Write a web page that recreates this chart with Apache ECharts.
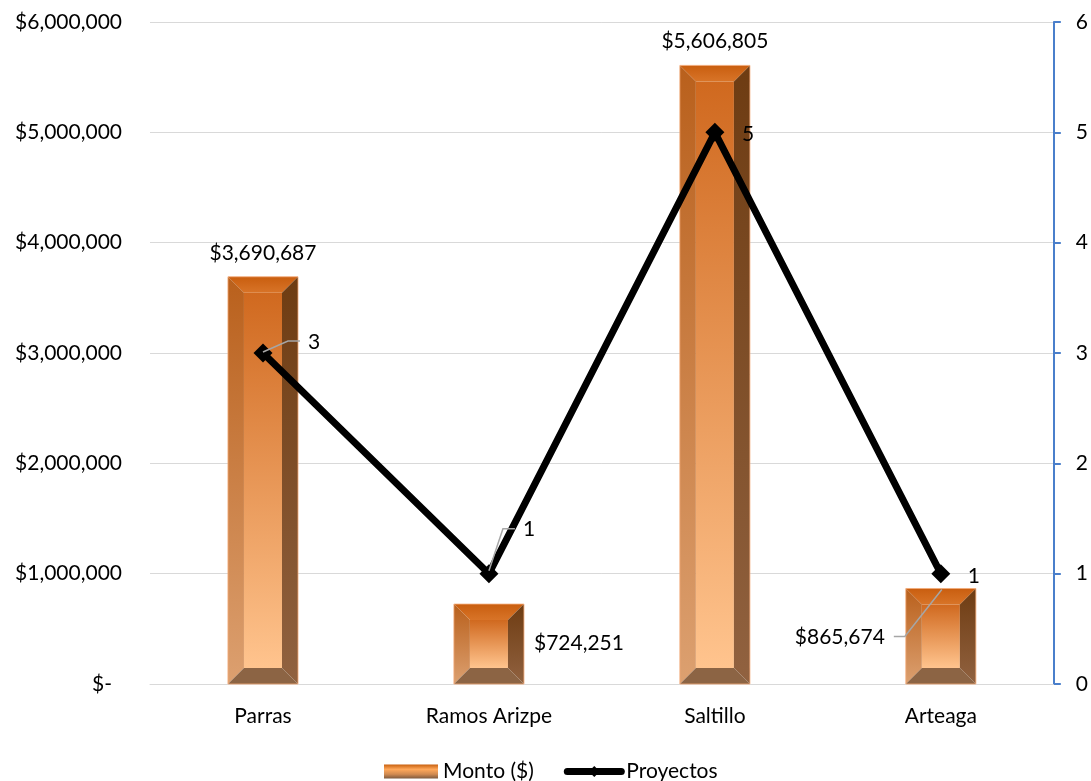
<!DOCTYPE html>
<html>
<head>
<meta charset="utf-8">
<title>Monto y Proyectos por municipio</title>
<script src="https://cdn.jsdelivr.net/npm/echarts@6/dist/echarts.min.js"></script>
<style>
  html, body { margin: 0; padding: 0; background: #ffffff; }
  #chart { width: 1091px; height: 781px; }
</style>
</head>
<body>
<div id="chart"></div>
<script>
// Municipios y valores
const categories = ['Parras', 'Ramos Arizpe', 'Saltillo', 'Arteaga'];
const montos = [3690687, 724251, 5606805, 865674];
const proyectos = [3, 1, 5, 1];
const montoTicks = [0, 1000000, 2000000, 3000000, 4000000, 5000000, 6000000];
const proyectoTicks = [0, 1, 2, 3, 4, 5, 6];

const FONT = 'Lato, "Open Sans", sans-serif';
const FS = 21;

function money(v) {
  return '$' + Math.round(v).toLocaleString('en-US');
}

// Placement of the amount label for each bar
const montoLabelSide = ['top', 'right', 'top', 'left'];

// Beveled bar with its value label
function renderBevelBar(params, api) {
  const idx = params.dataIndex;
  const v = api.value(1);
  const top = api.coord([api.value(0), v]);
  const base = api.coord([api.value(0), 0]);
  const w = api.size([1, 0])[0] * 0.31;
  const l = top[0] - w / 2, r = top[0] + w / 2, t = top[1], b = base[1];
  const d = Math.min(16, (b - t) / 2, w / 2);

  const lin = (c0, c1) => new echarts.graphic.LinearGradient(0, 0, 0, 1, [
    { offset: 0, color: c0 }, { offset: 1, color: c1 }
  ]);

  const children = [
    { type: 'rect', shape: { x: l + d, y: t + d, width: w - 2 * d, height: Math.max(0, b - t - 2 * d) },
      style: { fill: lin('#D0691F', '#FFC48E') } },
    { type: 'polygon', shape: { points: [[l, t], [r, t], [r - d, t + d], [l + d, t + d]] },
      style: { fill: lin('#C95E0F', '#D87428') } },
    { type: 'polygon', shape: { points: [[l, t], [l + d, t + d], [l + d, b - d], [l, b]] },
      style: { fill: lin('#B9601C', '#DCA070') } },
    { type: 'polygon', shape: { points: [[r, t], [r, b], [r - d, b - d], [r - d, t + d]] },
      style: { fill: lin('#6E3C12', '#916240') } },
    { type: 'polygon', shape: { points: [[l, b], [r, b], [r - d, b - d], [l + d, b - d]] },
      style: { fill: '#8C6444' } },
    { type: 'rect', shape: { x: l, y: t, width: w, height: b - t },
      style: { fill: 'none', stroke: 'rgba(244,170,120,0.8)', lineWidth: 1 } }
  ];

  const side = montoLabelSide[idx];
  const txtStyle = { text: money(v), fill: '#000', font: FS + 'px ' + FONT };
  if (side === 'top') {
    children.push({ type: 'text', x: top[0], y: t - 24,
      style: Object.assign({ align: 'center', verticalAlign: 'middle' }, txtStyle) });
  } else if (side === 'right') {
    children.push({ type: 'text', x: r + 10, y: (t + b) / 2 - 1,
      style: Object.assign({ align: 'left', verticalAlign: 'middle' }, txtStyle) });
  } else {
    const ty = t + 48;
    children.push({ type: 'polyline',
      shape: { points: [[top[0] + 1, t + 1], [l - 1, ty], [l - 12, ty]] },
      style: { stroke: '#A6A6A6', lineWidth: 1.5, fill: 'none' } });
    children.push({ type: 'text', x: l - 21, y: ty + 1,
      style: Object.assign({ align: 'right', verticalAlign: 'middle' }, txtStyle) });
  }
  return { type: 'group', children };
}

// Value labels of the project line, some with a leader line
const proyectoLabelPlace = [
  { tx: 45, ty: -11, lead: [[0, -1], [25, -12], [37, -12]] },
  { tx: 34, ty: -44, lead: [[0, -3], [14, -45], [26, -45]] },
  { tx: 27, ty: 2, lead: null },
  { tx: 27, ty: 3, lead: null }
];

function renderProyectoLabel(params, api) {
  const p = api.coord([api.value(0), api.value(1)]);
  const cfg = proyectoLabelPlace[params.dataIndex];
  const children = [];
  if (cfg.lead) {
    children.push({ type: 'polyline',
      shape: { points: cfg.lead.map(q => [p[0] + q[0], p[1] + q[1]]) },
      style: { stroke: '#A6A6A6', lineWidth: 1.5, fill: 'none' } });
  }
  children.push({ type: 'text', x: p[0] + cfg.tx, y: p[1] + cfg.ty,
    style: { text: String(api.value(1)), fill: '#000', font: FS + 'px ' + FONT,
      align: 'left', verticalAlign: 'middle' } });
  return { type: 'group', children };
}

const legendBarFill = new echarts.graphic.LinearGradient(0, 0, 0, 1, [
  { offset: 0, color: '#C8600F' },
  { offset: 0.35, color: '#FFA85A' },
  { offset: 0.7, color: '#D08A50' },
  { offset: 1, color: '#7E5A3E' }
]);

const chart = echarts.init(document.getElementById('chart'), null, { renderer: 'canvas' });

chart.setOption({
  animation: false,
  backgroundColor: '#ffffff',
  textStyle: { fontFamily: FONT },
  grid: { left: 150, right: 37, top: 22, bottom: 97, containLabel: false },
  legend: {
    left: 384,
    top: 761,
    padding: 0,
    itemWidth: 54,
    itemHeight: 14,
    itemGap: 30,
    textStyle: { fontSize: FS, color: '#000', fontFamily: FONT },
    data: [
      { name: 'Monto ($)', icon: 'rect', itemStyle: { color: legendBarFill } },
      { name: 'Proyectos', lineStyle: { width: 7, color: '#000', cap: 'round' }, itemStyle: { color: '#000' } }
    ]
  },
  xAxis: {
    type: 'category',
    data: categories,
    axisLine: { show: true, lineStyle: { color: '#D9D9D9', width: 1 } },
    axisTick: { show: false },
    axisLabel: { color: '#000', fontSize: FS, fontFamily: FONT, margin: 22 }
  },
  yAxis: [
    {
      type: 'value',
      min: montoTicks[0],
      max: montoTicks[montoTicks.length - 1],
      interval: montoTicks[1] - montoTicks[0],
      axisLine: { show: false },
      axisTick: { show: false },
      splitLine: { lineStyle: { color: '#D9D9D9', width: 1 } },
      axisLabel: {
        margin: 28,
        color: '#000',
        fontSize: FS,
        fontFamily: FONT,
        formatter: v => v === 0 ? '{z|$-}' : money(v),
        rich: { z: { fontSize: FS, fontFamily: FONT, color: '#000', padding: [0, 10, 0, 0] } }
      }
    },
    {
      type: 'value',
      position: 'right',
      min: proyectoTicks[0],
      max: proyectoTicks[proyectoTicks.length - 1],
      interval: proyectoTicks[1] - proyectoTicks[0],
      axisLine: { show: true, lineStyle: { color: '#4A7FCB', width: 2 } },
      axisTick: { show: true, length: 7, lineStyle: { color: '#4A7FCB', width: 2 } },
      splitLine: { show: false },
      axisLabel: { margin: 22, color: '#000', fontSize: FS, fontFamily: FONT }
    }
  ],
  series: [
    {
      name: 'Monto ($)',
      type: 'custom',
      yAxisIndex: 0,
      itemStyle: { color: legendBarFill },
      renderItem: renderBevelBar,
      data: montos.map((v, i) => [i, v]),
      z: 2
    },
    {
      name: 'Proyectos',
      type: 'line',
      yAxisIndex: 1,
      data: proyectos,
      symbol: 'diamond',
      symbolSize: 19,
      itemStyle: { color: '#000' },
      lineStyle: { color: '#000', width: 7, join: 'miter' },
      z: 3
    },
    {
      name: 'Proyectos etiquetas',
      type: 'custom',
      yAxisIndex: 1,
      renderItem: renderProyectoLabel,
      data: proyectos.map((v, i) => [i, v]),
      z: 4,
      silent: true
    }
  ]
});
</script>
</body>
</html>
